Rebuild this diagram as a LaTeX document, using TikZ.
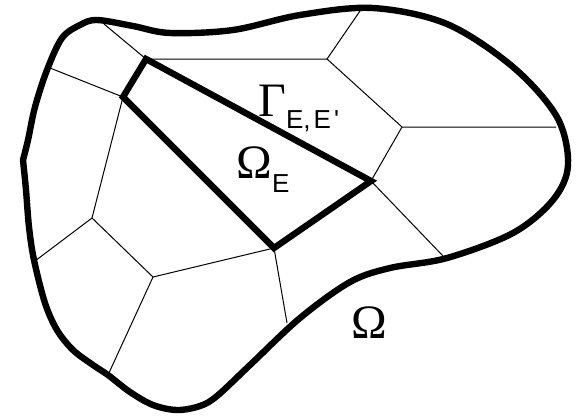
\documentclass[tikz,border=0pt]{standalone}
\usepackage{fontspec}
\setmainfont{Liberation Serif}
\newfontfamily\labsans{Liberation Sans}
\usetikzlibrary{positioning}
\newcommand{\idx}[2][6pt]{\raisebox{-#1}{\fontsize{13}{13}\selectfont\labsans #2}}

\begin{document}
\begin{tikzpicture}[
  x=0.5pt, y=-0.5pt,
  bnd/.style={line width=3.2pt, line join=round},
  cell/.style={line width=0.5pt},
  elem/.style={line width=3.2pt, line join=miter},
  lab/.style={font=\fontsize{24}{24}\selectfont, inner sep=0pt, anchor=base west}
]
  \useasboundingbox (0,0) rectangle (577,419);

  % --- outer boundary (small corner on the left side)
  \draw[bnd] plot[smooth, tension=0.55] coordinates {
    (23,160) (26,190) (29,227) (34,260) (45,303) (57,330) (73,350)
    (93,365) (108,375) (130,392) (153,405) (177,410) (200,406)
    (217,396) (250,365) (300,318)
    (350,282) (390,268) (447,258) (513,233) (553,200) (568,165)
    (557,117) (513,67) (447,24) (373,8) (300,15) (233,30) (170,33)
    (133,26) (97,20) (80,25) (62,38) (47,70) (35,107) (28,140)
    (23,160)} -- cycle;

  % --- element corners
  \coordinate (ea) at (146,59);
  \coordinate (eb) at (123,97);
  \coordinate (ec) at (274,248);
  \coordinate (ed) at (371,181);

  % --- inner vertices of the mesh
  \coordinate (v1) at (327,59);
  \coordinate (v2) at (402,127);
  \coordinate (v3) at (92,218);
  \coordinate (v4) at (153,277);

  % --- where cell edges meet the boundary
  \coordinate (b1) at (104,24);
  \coordinate (b2) at (360,11);
  \coordinate (b3) at (556,127);
  \coordinate (b4) at (443,256);
  \coordinate (b5) at (287,323);
  \coordinate (b6) at (108,375);
  \coordinate (b7) at (35,261);
  \coordinate (b8) at (50,68);

  % --- cell edges
  \draw[cell] (ea) -- (b1);
  \draw[cell] (ea) -- (v1) -- (b2);
  \draw[cell] (v1) -- (v2) -- (b3);
  \draw[cell] (v2) -- (ed) -- (b4);
  \draw[cell] (ec) -- (b5);
  \draw[cell] (eb) -- (b8);
  \draw[cell] (eb) -- (v3) -- (b7);
  \draw[cell] (v3) -- (v4) -- (b6);
  \draw[cell] (v4) -- (ec);

  % --- element E
  \draw[elem] (ea) -- (ed) -- (ec) -- (eb) -- cycle;

  % --- labels
  \node[lab] (gam) at (258,116) {Γ\idx{E,\kern1.5pt E\kern1.5pt'}};
  \node[lab] (ome) at (236,178) {Ω\idx[7pt]{E}};
  \node[lab] (om) at (351,338) {Ω};
\end{tikzpicture}
\end{document}
